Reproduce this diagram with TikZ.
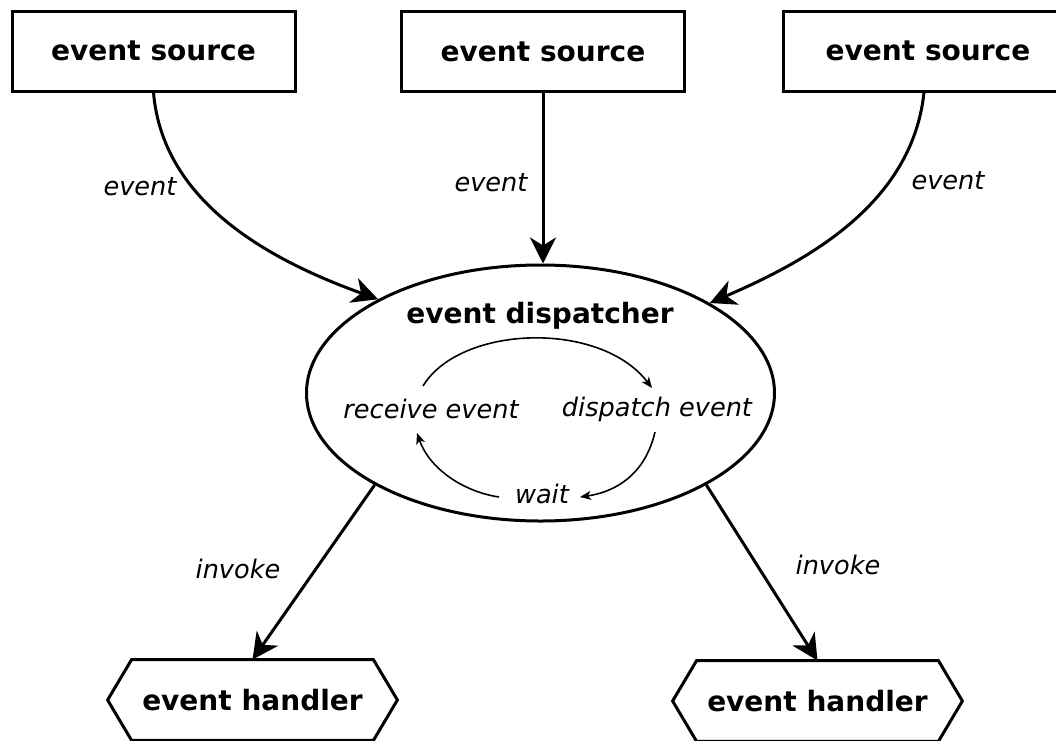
\documentclass[tikz,border=0pt]{standalone}
\usepackage{fontspec}
\setmainfont{DejaVu Sans}
\usetikzlibrary{arrows.meta,calc,shapes.geometric}
\tikzset{
  srcbox/.style={draw, line width=1.5pt, rectangle, minimum width=141.5pt, minimum height=40pt, inner sep=0pt, font=\fontsize{14}{16}\selectfont\bfseries},
  hexnode/.style={rectangle, minimum width=144.5pt, minimum height=40pt, inner sep=0pt, font=\fontsize{14}{16}\selectfont\bfseries},
  hexline/.style={line width=1.5pt, line join=miter},
  disp/.style={draw, ellipse, line width=1.5pt, minimum width=234pt, minimum height=128pt, inner sep=0pt},
  lbl/.style={font=\fontsize{12.8}{15}\selectfont\itshape, inner sep=0pt},
  ttl/.style={font=\fontsize{14}{16}\selectfont\bfseries, inner sep=0pt},
  mainarrow/.style={line width=1.5pt, -{Stealth[length=13pt,width=13pt,inset=4pt]}},
  smallarrow/.style={line width=0.8pt, -{Stealth[length=5.5pt,width=4.5pt,inset=1.5pt]}}
}
\begin{document}
\begin{tikzpicture}[x=0.5pt,y=-0.5pt]
\useasboundingbox (0,0) rectangle (1056,740);
% sources
\node[srcbox] (b1) at (153.5,51) {event source};
\node[srcbox] (b2) at (543,51.5) {event source};
\node[srcbox, minimum width=145pt] (b3) at (928,51) {event source};
% dispatcher
\node[disp] (d) at (540.5,393) {};
\node[ttl] (dt) at (540,316) {event dispatcher};
\node[lbl] (recv) at (431,409) {receive event};
\node[lbl] (disp) at (657,409) {dispatch event};
\node[lbl] (wait) at (542,494) {wait};
% handlers
\node[hexnode] (h1) at (252.5,700) {event handler};
\node[hexnode] (h2) at (817.5,701) {event handler};
\foreach \h in {h1,h2}{
  \draw[hexline] (\h.west) -- ($(\h.north west)+(24,0)$) -- ($(\h.north east)+(-24,0)$) -- (\h.east) -- ($(\h.south east)+(-24,0)$) -- ($(\h.south west)+(24,0)$) -- cycle;
}
% main arrows
\draw[mainarrow] (b1.south) .. controls (163,205) and (275,262) .. (d.150.6);
\draw[mainarrow] (b2.south) -- (b2.south |- d.north);
\draw[mainarrow] ([xshift=-2pt]b3.south) .. controls (912,205) and (805,262) .. (d.28.4);
\draw[mainarrow] (d.209.1) -- (h1.north);
\draw[mainarrow] (d.331) -- (h2.north);
% labels
\node[lbl] (l1) at (140,187) {event};
\node[lbl] (l2) at (491,183) {event};
\node[lbl] (l3) at (948,181) {event};
\node[lbl] (l4) at (238,569) {invoke};
\node[lbl] (l5) at (838,565) {invoke};
% inner cycle
\coordinate (c1) at (423,386);
\coordinate (c2) at (652,388);
\coordinate (c3) at (655,432);
\coordinate (c4) at (580,497);
\coordinate (c5) at (499,497);
\coordinate (c6) at (417,433);
\draw[smallarrow] (c1) .. controls (460,325) and (600,320) .. (c2);
\draw[smallarrow] (c3) .. controls (645,475) and (615,492) .. (c4);
\draw[smallarrow] (c5) .. controls (465,492) and (430,470) .. (c6);
\end{tikzpicture}
\end{document}
